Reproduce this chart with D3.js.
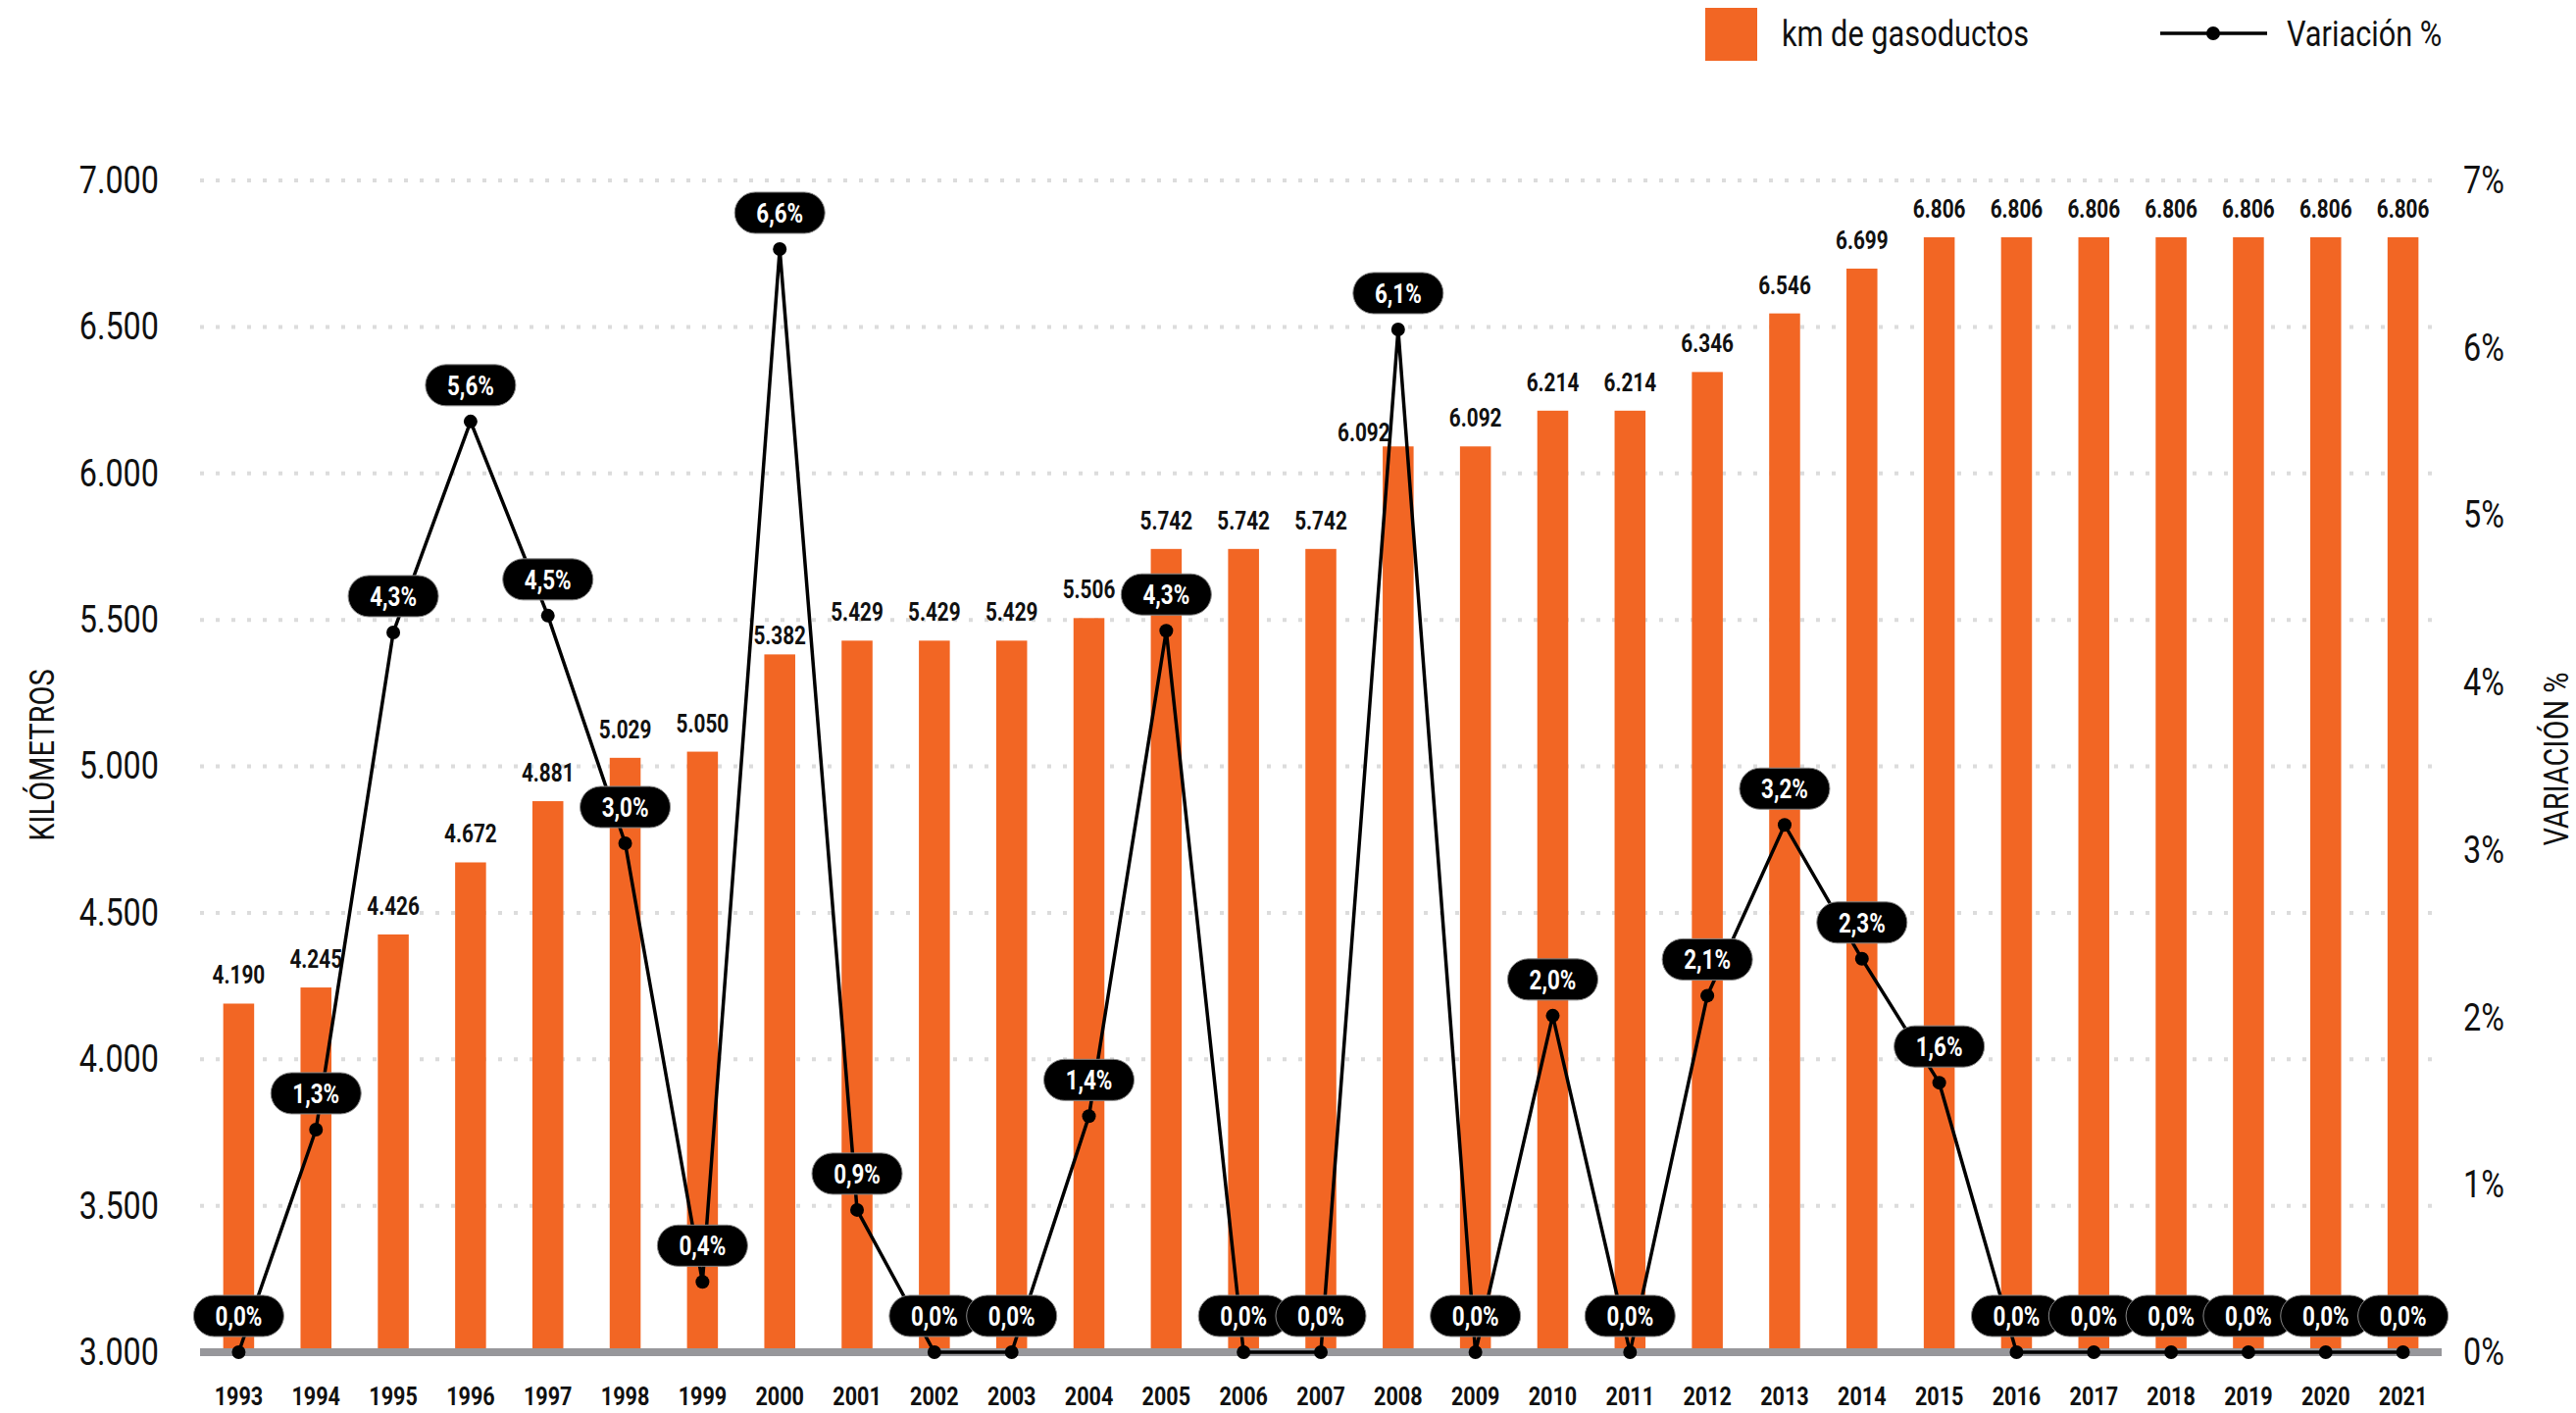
<!DOCTYPE html>
<html>
<head>
<meta charset="utf-8">
<script src="https://cdn.jsdelivr.net/npm/d3@7"></script>
<style>
  body { margin: 0; background: #fff; }
  svg text { font-family: Roboto, "Noto Sans", sans-serif; }
</style>
</head>
<body>
<div class="chart"></div>
<script>
// data
const years = ["1993","1994","1995","1996","1997","1998","1999","2000","2001","2002",
  "2003","2004","2005","2006","2007","2008","2009","2010","2011","2012",
  "2013","2014","2015","2016","2017","2018","2019","2020","2021"];
const km = [4190, 4245, 4426, 4672, 4881, 5029, 5050, 5382, 5429, 5429,
  5429, 5506, 5742, 5742, 5742, 6092, 6092, 6214, 6214, 6346,
  6546, 6699, 6806, 6806, 6806, 6806, 6806, 6806, 6806];
// plotted position of each point (%)
const variation = [0.0, 1.33, 4.30, 5.56, 4.40, 3.04, 0.42, 6.59, 0.85, 0.0,
  0.0, 1.41, 4.31, 0.0, 0.0, 6.11, 0.0, 2.01, 0.0, 2.13,
  3.15, 2.35, 1.61, 0.0, 0.0, 0.0, 0.0, 0.0, 0.0];
// printed label of each point
const variationLabels = ["0,0%","1,3%","4,3%","5,6%","4,5%","3,0%","0,4%","6,6%","0,9%","0,0%",
  "0,0%","1,4%","4,3%","0,0%","0,0%","6,1%","0,0%","2,0%","0,0%","2,1%",
  "3,2%","2,3%","1,6%","0,0%","0,0%","0,0%","0,0%","0,0%","0,0%"];
const leftTicks = [3000, 3500, 4000, 4500, 5000, 5500, 6000, 6500, 7000];
const rightTicks = [0, 1, 2, 3, 4, 5, 6, 7];

const width = 2627, height = 1441;
const orange = "#f26624";
const sx = 0.83; // squeeze Roboto to look like the condensed face of the original
const plot = {left: 204, right: 2490, top: 184, bottom: 1379};

const svg = d3.select(".chart").append("svg")
  .attr("width", width)
  .attr("height", height);

function place(sel, fx, fy) {
  return sel.attr("transform", (d, i) => `translate(${fx(d, i)},${fy(d, i)}) scale(${sx},1)`);
}

const x = d3.scaleBand()
  .domain(years)
  .range([plot.left, plot.right])
  .paddingInner(0.6)
  .paddingOuter(0.3);

const y = d3.scaleLinear().domain([3000, 7000]).range([plot.bottom, plot.top]);
const y2 = d3.scaleLinear().domain([0, 7]).range([plot.bottom, plot.top]);

const fmtKm = d3.formatLocale({decimal: ",", thousands: ".", grouping: [3]}).format(",");
const cx = (d, i) => x(years[i]) + x.bandwidth() / 2;

// dotted gridlines
svg.append("g")
  .selectAll("line")
  .data(leftTicks.filter(t => t > 3000))
  .join("line")
    .attr("x1", plot.left)
    .attr("x2", plot.right)
    .attr("y1", d => y(d))
    .attr("y2", d => y(d))
    .attr("stroke", "#dcdcdc")
    .attr("stroke-width", 4)
    .attr("stroke-dasharray", "4 12");

// left axis
const leftAxis = svg.append("g")
  .attr("transform", `translate(${plot.left - 42},0)`)
  .call(d3.axisLeft(y).tickValues(leftTicks).tickFormat(fmtKm).tickSize(0).tickPadding(0));
leftAxis.select(".domain").remove();
leftAxis.selectAll("text")
  .attr("font-size", 39)
  .attr("font-family", null)
  .attr("fill", "#111")
  .attr("transform", `scale(${sx},1)`);

// right axis
const rightAxis = svg.append("g")
  .attr("transform", `translate(${plot.right + 22},0)`)
  .call(d3.axisRight(y2).tickValues(rightTicks).tickFormat(d => d + "%").tickSize(0).tickPadding(0));
rightAxis.select(".domain").remove();
rightAxis.selectAll("text")
  .attr("font-size", 39)
  .attr("font-family", null)
  .attr("fill", "#111")
  .attr("transform", `scale(${sx},1)`);

// bars
svg.append("g")
  .selectAll("rect")
  .data(km)
  .join("rect")
    .attr("x", (d, i) => x(years[i]))
    .attr("y", d => y(d))
    .attr("width", x.bandwidth())
    .attr("height", d => y(3000) - y(d))
    .attr("fill", orange);

// bar value labels (a couple nudged out of the line's way, as in the original)
const nudge = {"2000": [0, 10], "2008": [-35, 15]};
svg.append("g")
  .selectAll("text")
  .data(km)
  .join("text")
    .call(place,
      (d, i) => cx(d, i) + (nudge[years[i]] ? nudge[years[i]][0] : 0),
      (d, i) => y(d) - 20 + (nudge[years[i]] ? nudge[years[i]][1] : 0))
    .attr("text-anchor", "middle")
    .attr("font-size", 25)
    .attr("font-weight", 700)
    .attr("fill", "#111")
    .text(d => fmtKm(d));

// baseline
svg.append("line")
  .attr("x1", plot.left)
  .attr("x2", plot.right)
  .attr("y1", plot.bottom)
  .attr("y2", plot.bottom)
  .attr("stroke", "#97979b")
  .attr("stroke-width", 8);

// year labels
svg.append("g")
  .selectAll("text")
  .data(years)
  .join("text")
    .call(place, (d, i) => cx(d, i), () => 1433)
    .attr("text-anchor", "middle")
    .attr("font-size", 26)
    .attr("font-weight", 700)
    .attr("fill", "#111")
    .text(d => d);

// variation line
svg.append("path")
  .datum(variation)
  .attr("fill", "none")
  .attr("stroke", "#000")
  .attr("stroke-width", 3.5)
  .attr("d", d3.line().x(cx).y(d => y2(d)));

svg.append("g")
  .selectAll("circle")
  .data(variation)
  .join("circle")
    .attr("cx", cx)
    .attr("cy", d => y2(d))
    .attr("r", 7)
    .attr("fill", "#000");

// pill labels
const pills = svg.append("g")
  .selectAll("g")
  .data(variation)
  .join("g")
    .attr("transform", (d, i) => `translate(${cx(d, i)},${y2(d) - 37})`);
pills.append("rect")
  .attr("x", -46)
  .attr("y", -21)
  .attr("width", 92)
  .attr("height", 42)
  .attr("rx", 21)
  .attr("fill", "#000")
  .attr("stroke", "#888")
  .attr("stroke-width", 1);
pills.append("text")
  .attr("transform", `scale(${sx},1)`)
  .attr("text-anchor", "middle")
  .attr("dy", "0.36em")
  .attr("font-size", 27)
  .attr("font-weight", 700)
  .attr("fill", "#fff")
  .text((d, i) => variationLabels[i]);

// axis titles
svg.append("text")
  .attr("transform", `translate(42,770) rotate(-90) scale(${sx},1)`)
  .attr("text-anchor", "middle")
  .attr("dy", "0.36em")
  .attr("font-size", 35)
  .attr("fill", "#111")
  .text("KILÓMETROS");

svg.append("text")
  .attr("transform", `translate(2606,774) rotate(-90) scale(${sx},1)`)
  .attr("text-anchor", "middle")
  .attr("dy", "0.36em")
  .attr("font-size", 35)
  .attr("fill", "#111")
  .text("VARIACIÓN %");

// legend
const legend = svg.append("g");
legend.append("rect")
  .attr("x", 1739)
  .attr("y", 8)
  .attr("width", 53)
  .attr("height", 54)
  .attr("fill", orange);
legend.append("text")
  .attr("transform", `translate(1817,34) scale(${sx},1)`)
  .attr("dy", "0.36em")
  .attr("font-size", 37)
  .attr("fill", "#111")
  .text("km de gasoductos");
legend.append("line")
  .attr("x1", 2203)
  .attr("x2", 2312)
  .attr("y1", 34)
  .attr("y2", 34)
  .attr("stroke", "#000")
  .attr("stroke-width", 3.5);
legend.append("circle")
  .attr("cx", 2257)
  .attr("cy", 34)
  .attr("r", 7)
  .attr("fill", "#000");
legend.append("text")
  .attr("transform", `translate(2332,34) scale(${sx},1)`)
  .attr("dy", "0.36em")
  .attr("font-size", 37)
  .attr("fill", "#111")
  .text("Variación %");
</script>
</body>
</html>
